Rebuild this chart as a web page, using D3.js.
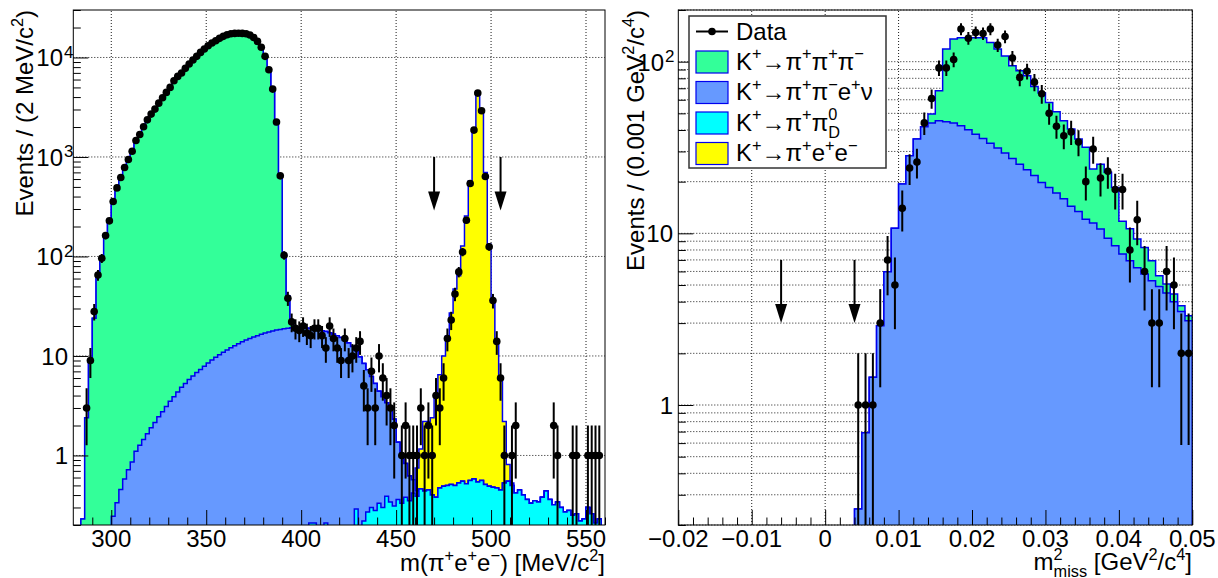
<!DOCTYPE html>
<html>
<head>
<meta charset="utf-8">
<script src="https://cdn.jsdelivr.net/npm/d3@7"></script>
<style>
body { margin: 0; background: #fff; }
text { font-family: "Liberation Sans", Arial, Helvetica, sans-serif; fill: #000; }
</style>
</head>
<body>
<script>
/* ==================== Data: left panel, m(pi+ e+ e-), 2 MeV bins 280-560 ==================== */
var massBinLow = 280;
var massBinWidth = 2;
// events per bin (bin centres 281, 283, ... 559)
var massData = [
    0, 0, 0, 3, 9, 28, 65, 96, 162, 228,
    357, 489, 622, 784, 944, 1143, 1465, 1683, 2010, 2362,
    2697, 3027, 3475, 3935, 4456, 5000, 5830, 6456, 6970, 7770,
    8590, 9420, 10260, 11250, 12150, 13130, 13970, 14730, 15570, 16300,
    16900, 17300, 17460, 17500, 17460, 17300, 16800, 15900, 14500, 12650,
    10260, 7520, 4810, 2250, 646, 103, 38, 22, 19, 18,
    20, 17, 16, 19, 19, 16, 12, 20, 15, 12,
    9, 15, 9, 10, 12, 14, 5, 3, 7, 3,
    10, 6, 4, 3, 2, 0, 1, 2, 1, 1,
    1, 3, 1, 2, 1, 4, 3, 6, 15, 23,
    42, 70, 111, 231, 541, 1862, 4385, 2910, 637, 125,
    36, 14, 6, 1, 0, 1, 2, 0, 0, 0,
    0, 0, 0, 0, 0, 0, 2, 1, 0, 0,
    0, 1, 1, 0, 0, 1, 1, 1, 1, 0
];
// K+ -> pi+ pi+ pi-
var massK3pi = [
    0, 0, 0.23, 2.4, 8.9, 24, 64, 98, 160, 225,
    350, 480, 610, 770, 940, 1140, 1420, 1680, 1990, 2330,
    2680, 3040, 3450, 3900, 4420, 4980, 5750, 6400, 6980, 7750,
    8550, 9400, 10250, 11200, 12100, 13000, 13900, 14700, 15500, 16200,
    16800, 17200, 17400, 17400, 17250, 17000, 16500, 15600, 14100, 12400,
    10000, 7300, 4600, 2100, 600, 85, 21, 2, 0, 0,
    0, 0, 0, 0, 0, 0, 0, 0, 0, 0,
    0, 0, 0, 0, 0, 0, 0, 0, 0, 0,
    0, 0, 0, 0, 0, 0, 0, 0, 0, 0,
    0, 0, 0, 0, 0, 0, 0, 0, 0, 0,
    0, 0, 0, 0, 0, 0, 0, 0, 0, 0,
    0, 0, 0, 0, 0, 0, 0, 0, 0, 0,
    0, 0, 0, 0, 0, 0, 0, 0, 0, 0,
    0, 0, 0, 0, 0, 0, 0, 0, 0, 0
];
// K+ -> pi+ pi- e+ nu
var massKe4 = [
    0, 0, 0, 0, 0, 0, 0, 0, 0, 0,
    0.245, 0.334, 0.455, 0.58, 0.72, 0.86, 1.1, 1.27, 1.45, 1.65,
    1.9, 2.15, 2.45, 2.75, 3.1, 3.5, 3.9, 4.35, 4.85, 5.3,
    5.8, 6.3, 6.8, 7.3, 7.9, 8.5, 9.1, 9.7, 10.3, 10.9,
    11.5, 12.1, 12.7, 13.3, 13.9, 14.5, 15.0, 15.5, 16.0, 16.5,
    17.0, 17.4, 17.8, 18.2, 18.5, 18.8, 19.0, 19.2, 19.3, 19.3,
    19.2, 19.0, 18.7, 18.4, 18.1, 17.8, 17.4, 17.0, 16.4, 15.8,
    15.2, 14.4, 13.4, 12.3, 11.0, 9.6, 8.2, 7.0, 5.9, 5.0,
    4.1, 3.6, 3.0, 2.5, 2.0, 1.0, 0.65, 0.45, 0.27, 0.15,
    0.05, 0, 0, 0, 0, 0, 0, 0, 0, 0,
    0, 0, 0, 0, 0, 0, 0, 0, 0, 0,
    0, 0, 0, 0, 0, 0, 0, 0, 0, 0,
    0, 0, 0, 0, 0, 0, 0, 0, 0, 0,
    0, 0, 0, 0, 0, 0, 0, 0, 0, 0
];
// K+ -> pi+ pi0_D
var massPi0D = [
    0, 0, 0, 0, 0, 0, 0, 0, 0, 0,
    0, 0, 0, 0, 0, 0, 0, 0, 0, 0,
    0, 0, 0, 0, 0, 0, 0, 0, 0, 0,
    0, 0, 0, 0, 0, 0, 0, 0, 0, 0,
    0, 0, 0, 0, 0, 0, 0, 0, 0, 0,
    0, 0, 0, 0, 0, 0, 0, 0, 0, 0,
    0, 0, 0.21, 0.21, 0.15, 0.15, 0.21, 0.15, 0.1, 0.12,
    0.1, 0.12, 0.1, 0.15, 0.29, 0.15, 0.22, 0.27, 0.3, 0.28,
    0.33, 0.3, 0.39, 0.34, 0.31, 0.36, 0.33, 0.38, 0.35, 0.42,
    0.39, 0.46, 0.44, 0.45, 0.4, 0.38, 0.47, 0.49, 0.5, 0.51,
    0.5, 0.53, 0.55, 0.52, 0.56, 0.58, 0.54, 0.56, 0.51, 0.49,
    0.48, 0.47, 0.45, 0.53, 0.55, 0.5, 0.42, 0.45, 0.4, 0.36,
    0.33, 0.35, 0.34, 0.38, 0.44, 0.36, 0.32, 0.34, 0.3, 0.27,
    0.28, 0.25, 0.26, 0.22, 0.23, 0.3, 0.26, 0.21, 0.23, 0.19
];
// K+ -> pi+ e+ e-
var massPiee = [
    0, 0, 0, 0, 0, 0, 0, 0, 0, 0,
    0, 0, 0, 0, 0, 0, 0, 0, 0, 0,
    0, 0, 0, 0, 0, 0, 0, 0, 0, 0,
    0, 0, 0, 0, 0, 0, 0, 0, 0, 0,
    0, 0, 0, 0, 0, 0, 0, 0, 0, 0,
    0, 0, 0, 0, 0, 0, 0, 0, 0, 0,
    0, 0, 0, 0, 0, 0, 0, 0, 0, 0,
    0, 0, 0, 0, 0, 0, 0, 0, 0, 0,
    0, 0, 0, 0, 0, 0, 0, 0, 0, 0,
    0.31, 0.7, 1.76, 1.75, 2.0, 3.57, 6.0, 9.5, 15.4, 26.5,
    46.5, 63.5, 127, 254, 574, 1899, 4289, 2909, 697, 132,
    36.5, 14.2, 5.85, 1.67, 0.26, 0.03, 0, 0, 0, 0,
    0, 0, 0, 0, 0, 0, 0, 0, 0, 0,
    0, 0, 0, 0, 0, 0, 0, 0, 0, 0
];
var massTicks = [300, 350, 400, 450, 500, 550];
var massTickLabels = ["300", "350", "400", "450", "500", "550"];
var massCuts = [470, 505];

/* ==================== Data: right panel, m2 miss, 0.001 GeV2 bins from 0.004 ==================== */
var missBinLow = 0.004;
var missBinWidth = 0.001;
var missData = [
    1, 1, 1, 3, 7, 5, 14, 24, 26, 44,
    61, 92, 92, 103, 155, 137, 148, 146, 155, 125,
    140, 105, 81, 88, 76, 65, 50, 42, 37, 39,
    34, 20, 31, 21, 23, 18, 18, 8, 12, 6,
    3, 3, 6, 5, 2, 2
];
var missKe4 = [
    0.248, 0.69, 1.45, 2.9, 5.97, 10.7, 19.4, 28.3, 35.4, 41.8,
    43.9, 45.3, 44.7, 43.9, 42.4, 40.1, 37.8, 35.7, 33.5, 31.4,
    29.4, 27.3, 25.3, 23.5, 21.7, 19.8, 18.5, 17.2, 15.9, 14.4,
    13.4, 12.1, 11.5, 10.6, 9.35, 8.47, 7.57, 6.92, 6.3, 5.8,
    5.3, 4.9, 4.5, 4.0, 3.5, 3.1
];
var missK3pi = [
    0, 0, 0, 0, 0, 0, 0, 0, 0, 0,
    5.6, 22.4, 73.7, 91.5, 95.6, 97.9, 100, 102, 96, 87,
    78.6, 67.4, 63.2, 59.2, 50.1, 45.8, 39.4, 33.9, 29.4, 26.1,
    22, 19.6, 12.2, 14.7, 13.35, 10, 4.2, 3.7, 2.96, 2.48,
    1.62, 0.76, 0.57, 0.43, 0.29, 0.21
];
var missTicks = [-0.02, -0.01, 0, 0.01, 0.02, 0.03, 0.04, 0.05];
var missTickLabels = ["\u22120.02", "\u22120.01", "0", "0.01", "0.02", "0.03", "0.04", "0.05"];
var missCuts = [-0.006, 0.004];

/* ========= Constants ========= */
var w = 1218;
var h = 578;
var colK3pi = "#33ff99";
var colKe4 = "#6699ff";
var colPi0D = "#00ffff";
var colPiee = "#ffff00";
var histLine = "#0000ee";
var floorVal = 1e-3;

var svg = d3.select("body").append("svg").attr("width", w).attr("height", h);
var defs = svg.append("defs");

/* ========= Scales ========= */
var xL = d3.scaleLinear().domain([280, 560]).range([73.3, 605]);
var yL = d3.scaleLog().domain([0.2, 3e4]).range([525, 10]);
var xR = d3.scaleLinear().domain([-0.02, 0.05]).range([678.3, 1192.3]);
var yR = d3.scaleLog().domain([0.2, 200]).range([525, 10]);

/* ========================== Helper functions ===================== */
// text with ROOT-like super/subscripts: "txt", ["^", sup], ["^_", sup, sub]
function richText(g, x, y, parts, size, anchor) {
    var t = g.append("text").attr("x", x).attr("y", y)
        .attr("font-size", size).attr("text-anchor", anchor || "start");
    var small = size * 0.68, up = -size * 0.42, down = size * 0.3, shift = 0;
    parts.forEach(function (p) {
        if (typeof p === "string") {
            t.append("tspan").attr("dy", -shift).text(p);
            shift = 0;
        } else if (p[0] === "^") {
            t.append("tspan").attr("dy", up - shift).attr("font-size", small).text(p[1]);
            shift = up;
        } else {
            var s = t.append("tspan").attr("dy", up - shift).attr("font-size", small).text(p[1]);
            var wSup = s.node().getComputedTextLength();
            t.append("tspan").attr("dx", -wSup).attr("dy", down - up).attr("font-size", small).text(p[2]);
            shift = down;
        }
    });
    return t;
}

function logMinors(lo, hi) {
    var out = [];
    for (var e = -1; e <= 5; e++) {
        for (var k = 2; k <= 9; k++) {
            var v = k * Math.pow(10, e);
            if (v >= lo * 0.999 && v <= hi * 1.001) out.push(v);
        }
    }
    return out;
}

function stepPoints(lo, width, tops) {
    var pts = [[lo, floorVal]];
    tops.forEach(function (v, i) {
        pts.push([lo + i * width, v]);
        pts.push([lo + (i + 1) * width, v]);
    });
    pts.push([lo + tops.length * width, floorVal]);
    return pts;
}

function drawStack(g, x, y, lo, width, keys, rows, colors) {
    var series = d3.stack().keys(keys)(rows);
    var yb = y.range()[0];
    var area = d3.area()
        .x(function (d) { return x(d[0]); })
        .y0(yb)
        .y1(function (d) { return y(Math.max(d[1], floorVal)); });
    var line = d3.line()
        .x(function (d) { return x(d[0]); })
        .y(function (d) { return y(Math.max(d[1], floorVal)); });
    // draw the cumulative histograms from the top of the stack down
    for (var s = series.length - 1; s >= 0; s--) {
        var pts = stepPoints(lo, width, series[s].map(function (d) { return d[1]; }));
        g.append("path").datum(pts).attr("d", area).attr("fill", colors[keys[s]]);
        g.append("path").datum(pts).attr("d", line)
            .attr("fill", "none").attr("stroke", histLine).attr("stroke-width", 1.5);
    }
}

function drawGrid(g, x, y, xv, yv) {
    var xr = x.range(), yr = y.range();
    xv.forEach(function (v) {
        g.append("line").attr("x1", x(v)).attr("x2", x(v)).attr("y1", yr[0]).attr("y2", yr[1])
            .attr("stroke", "#000").attr("stroke-width", 0.9).attr("stroke-dasharray", "1,2");
    });
    yv.forEach(function (v) {
        g.append("line").attr("x1", xr[0]).attr("x2", xr[1]).attr("y1", y(v)).attr("y2", y(v))
            .attr("stroke", "#000").attr("stroke-width", 0.9).attr("stroke-dasharray", "1,2");
    });
}

function drawAxes(g, x, y, xMajor, xMinor, yMajor, yMinor) {
    var yb = y.range()[0], xl = x.range()[0];
    function noDomain(sel) { sel.select(".domain").remove(); }
    g.append("g").attr("transform", "translate(0," + yb + ")")
        .call(d3.axisBottom(x).tickValues(xMinor).tickSize(-7.5).tickFormat("")).call(noDomain);
    g.append("g").attr("transform", "translate(0," + yb + ")")
        .call(d3.axisBottom(x).tickValues(xMajor).tickSize(-15).tickFormat("")).call(noDomain);
    g.append("g").attr("transform", "translate(" + xl + ",0)")
        .call(d3.axisLeft(y).tickValues(yMinor).tickSize(-7.5).tickFormat("")).call(noDomain);
    g.append("g").attr("transform", "translate(" + xl + ",0)")
        .call(d3.axisLeft(y).tickValues(yMajor).tickSize(-15).tickFormat("")).call(noDomain);
    g.selectAll(".tick line").attr("stroke", "#000").attr("stroke-width", 1);
    // frame
    g.append("rect").attr("x", xl).attr("y", y.range()[1])
        .attr("width", x.range()[1] - xl).attr("height", yb - y.range()[1])
        .attr("fill", "none").attr("stroke", "#000").attr("stroke-width", 1);
}

function drawXLabels(g, x, ticks, labels) {
    ticks.forEach(function (v, i) {
        g.append("text").attr("x", x(v)).attr("y", 547).attr("font-size", 24)
            .attr("text-anchor", "middle").text(labels[i]);
    });
}

// log labels: exponent given as second entry
function drawYLabels(g, y, ticks, labels, xRight, expOver) {
    ticks.forEach(function (v, i) {
        var lab = labels[i];
        if (typeof lab === "string") {
            g.append("text").attr("x", xRight).attr("y", y(v) + 9).attr("font-size", 24)
                .attr("text-anchor", "end").text(lab);
        } else {
            var base = xRight - expOver;
            g.append("text").attr("x", base).attr("y", y(v) + 9).attr("font-size", 24)
                .attr("text-anchor", "end").text(lab[0]);
            g.append("text").attr("x", base + 1).attr("y", y(v) + 0.5).attr("font-size", 17)
                .text(lab[1]);
        }
    });
}

function drawArrow(g, xPix, yTop, yTip) {
    var headL = 19, headW = 6;
    g.append("line").attr("x1", xPix).attr("x2", xPix).attr("y1", yTop).attr("y2", yTip - headL + 1)
        .attr("stroke", "#000").attr("stroke-width", 2);
    g.append("path")
        .attr("d", "M" + (xPix - headW) + "," + (yTip - headL) + "L" + (xPix + headW) + "," + (yTip - headL) +
            "L" + xPix + "," + yTip + "Z")
        .attr("fill", "#000");
}

function drawData(gBars, gDots, x, y, lo, width, counts) {
    counts.forEach(function (n, i) {
        if (n <= 0) return;
        var c = lo + (i + 0.5) * width;
        var e = Math.sqrt(n);
        gBars.append("line").attr("x1", x(c)).attr("x2", x(c))
            .attr("y1", y(n + e)).attr("y2", y(Math.max(n - e, floorVal)))
            .attr("stroke", "#000").attr("stroke-width", 2);
        gDots.append("circle").attr("cx", x(c)).attr("cy", y(n)).attr("r", 3.8).attr("fill", "#000");
    });
}

function clipGroup(id, x, y) {
    defs.append("clipPath").attr("id", id).append("rect")
        .attr("x", x.range()[0]).attr("y", y.range()[1])
        .attr("width", x.range()[1] - x.range()[0]).attr("height", y.range()[0] - y.range()[1]);
    return "url(#" + id + ")";
}

var stackColors = { pi0d: colPi0D, ke4: colKe4, k3pi: colK3pi, piee: colPiee };

/* ==================== Left panel ======================== */
var left = svg.append("g");
var clipL = clipGroup("clipL", xL, yL);
drawGrid(left, xL, yL, massTicks, [1, 10, 100, 1000, 10000]);

var massRows = massData.map(function (d, i) {
    return { pi0d: massPi0D[i], ke4: massKe4[i], k3pi: massK3pi[i], piee: massPiee[i] };
});
drawStack(left.append("g").attr("clip-path", clipL), xL, yL, massBinLow, massBinWidth,
    ["pi0d", "ke4", "k3pi", "piee"], massRows, stackColors);

massCuts.forEach(function (m) { drawArrow(left, xL(m), yL(1000), yL(290)); });

var massMinor = d3.range(290, 561, 10).filter(function (v) { return massTicks.indexOf(v) < 0; });
drawAxes(left, xL, yL, massTicks, massMinor, [1, 10, 100, 1000, 10000], logMinors(0.2, 3e4));
drawXLabels(left, xL, massTicks, massTickLabels);
drawYLabels(left, yL, [1, 10, 100, 1000, 10000], ["1", "10", ["10", "2"], ["10", "3"], ["10", "4"]], 68, 5);

drawData(left.append("g").attr("clip-path", clipL), left.append("g"), xL, yL, massBinLow, massBinWidth, massData);

richText(left, 605, 571, ["m(\u03c0", ["^", "+"], "e", ["^", "+"], "e", ["^", "\u2212"], ") [MeV/c", ["^", "2"], "]"], 24, "end");
richText(left.append("g").attr("transform", "translate(33,10) rotate(-90)"), 0, 0,
    ["Events / (2 MeV/c", ["^", "2"], ")"], 24, "end");

/* ==================== Right panel ======================== */
var right = svg.append("g");
var clipR = clipGroup("clipR", xR, yR);
drawGrid(right, xR, yR, missTicks.slice(1), logMinors(0.2, 200).concat([1, 10, 100]));

var missRows = missData.map(function (d, i) {
    return { ke4: missKe4[i], k3pi: missK3pi[i] };
});
drawStack(right.append("g").attr("clip-path", clipR), xR, yR, missBinLow, missBinWidth,
    ["ke4", "k3pi"], missRows, stackColors);

missCuts.forEach(function (m) { drawArrow(right, xR(m), yR(7), yR(3)); });

var missMinor = d3.range(-0.02, 0.0501, 0.002).filter(function (v) {
    return Math.abs(v / 0.01 - Math.round(v / 0.01)) > 1e-6;
});
drawAxes(right, xR, yR, missTicks, missMinor, [1, 10, 100], logMinors(0.2, 200));
drawXLabels(right, xR, missTicks, missTickLabels);
drawYLabels(right, yR, [1, 10, 100], ["1", "10", ["10", "2"]], 673, 9);

drawData(right.append("g").attr("clip-path", clipR), right.append("g"), xR, yR, missBinLow, missBinWidth, missData);

richText(right, 1192, 570, ["m", ["^_", "2", "miss"], " [GeV", ["^", "2"], "/c", ["^", "4"], "]"], 24, "end");
richText(right.append("g").attr("transform", "translate(644,10) rotate(-90)"), 0, 0,
    ["Events / (0.001 GeV", ["^", "2"], "/c", ["^", "4"], ")"], 24, "end");

/* ==================== Legend ======================== */
var leg = svg.append("g");
leg.append("rect").attr("x", 689).attr("y", 16).attr("width", 197).attr("height", 152)
    .attr("fill", "#fff").attr("stroke", "#333").attr("stroke-width", 1.5);
leg.append("line").attr("x1", 696).attr("x2", 728).attr("y1", 31.5).attr("y2", 31.5)
    .attr("stroke", "#000").attr("stroke-width", 2);
leg.append("circle").attr("cx", 712).attr("cy", 31.5).attr("r", 3.8).attr("fill", "#000");
richText(leg, 736, 39.5, ["Data"], 24);

var legRows = [
    { c: colK3pi, y: 62, t: ["K", ["^", "+"], "\u2192\u03c0", ["^", "+"], "\u03c0", ["^", "+"], "\u03c0", ["^", "\u2212"]] },
    { c: colKe4, y: 92.5, t: ["K", ["^", "+"], "\u2192\u03c0", ["^", "+"], "\u03c0", ["^", "\u2212"], "e", ["^", "+"], "\u03bd"] },
    { c: colPi0D, y: 123, t: ["K", ["^", "+"], "\u2192\u03c0", ["^", "+"], "\u03c0", ["^_", "0", "D"]] },
    { c: colPiee, y: 153.5, t: ["K", ["^", "+"], "\u2192\u03c0", ["^", "+"], "e", ["^", "+"], "e", ["^", "\u2212"]] }
];
legRows.forEach(function (r) {
    leg.append("rect").attr("x", 696).attr("y", r.y - 11).attr("width", 32).attr("height", 22)
        .attr("fill", r.c).attr("stroke", histLine).attr("stroke-width", 1.2);
    richText(leg, 736, r.y + 7.5, r.t, 24);
});
</script>
</body>
</html>
